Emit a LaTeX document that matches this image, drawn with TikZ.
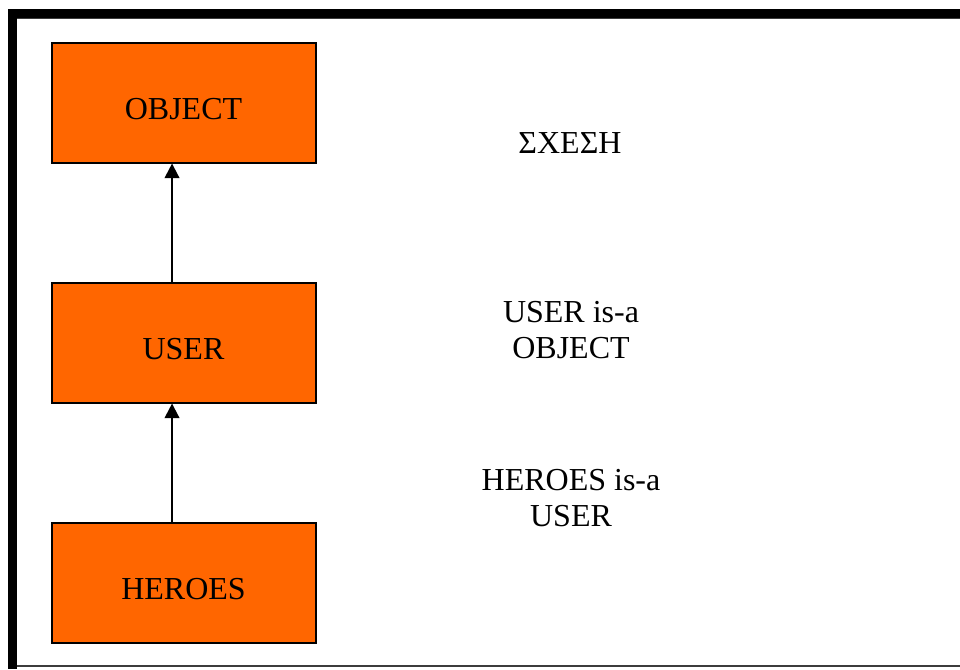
\documentclass[tikz,border=0pt]{standalone}
\usepackage{fontspec}
\setmainfont{Liberation Serif}
\usepackage{tikz}
\usetikzlibrary{arrows.meta,positioning}
\definecolor{myorange}{RGB}{255,102,0}
\definecolor{myframe}{RGB}{60,60,60}

\begin{document}
\begin{tikzpicture}[x=0.75pt, y=-0.75pt, node distance=180pt,
    class/.style={draw=black, line width=1.5pt, fill=myorange,
      minimum width=198pt, minimum height=90pt, inner sep=0pt,
      text height=25pt, text depth=0pt,
      font=\fontsize{24}{27}\selectfont},
    relation/.style={align=center, font=\fontsize{24}{27}\selectfont},
    isa/.style={line width=1.5pt, -{Triangle[length=11pt,width=11pt]}}]
        \useasboundingbox (0,0) rectangle (960,669);
        % frame
        \fill[black] (9,9) rectangle (960,18);
        \fill[black] (8,9) rectangle (17,669);
        \draw[myframe, line width=0.8pt] (17,18.5) -- (960,18.5);
        \draw[myframe, line width=1.1pt] (17,666) -- (960,666);
        % classes
        \node[class] (OBJECT) at (183.5,102.5) {OBJECT};
        \node[class] (USER) [below of=OBJECT] {USER};
        \node[class] (HEROES) [below of=USER] {HEROES};
        \draw[isa] ([xshift=-8.6pt]HEROES.north) -- ([xshift=-8.6pt]USER.south);
        \draw[isa] ([xshift=-8.6pt]USER.north) -- ([xshift=-8.6pt]OBJECT.south);
        % relations
        \node[relation] (title) at (570,143) {ΣΧΕΣΗ};
        \node[relation] (rel1) at (571,330) {USER is-a\\OBJECT};
        \node[relation] (rel2) at (571,498) {HEROES is-a\\USER};
\end{tikzpicture}
\end{document}
